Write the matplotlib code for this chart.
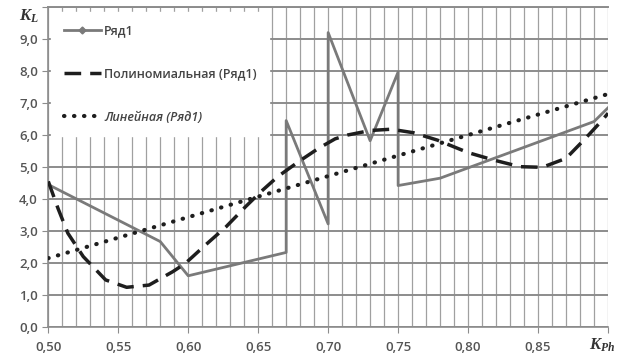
import matplotlib
matplotlib.use("Agg")
import matplotlib.pyplot as plt
from matplotlib.lines import Line2D
from matplotlib.ticker import MultipleLocator, FuncFormatter

# Ряд1
row_x = [0.50, 0.58, 0.60, 0.67, 0.67, 0.70, 0.70, 0.73, 0.75, 0.75, 0.78, 0.89, 0.90]
row_y = [4.45, 2.67, 1.60, 2.33, 6.45, 3.22, 9.20, 5.82, 7.97, 4.42, 4.65, 6.42, 6.85]

# Полиномиальная (Ряд1) - trend curve as drawn
poly_x = [0.500, 0.507, 0.514, 0.525, 0.541, 0.556, 0.572, 0.589, 0.598, 0.612,
          0.627, 0.641, 0.652, 0.664, 0.679, 0.693, 0.705, 0.714, 0.730, 0.745,
          0.761, 0.778, 0.800, 0.818, 0.837, 0.853, 0.870, 0.884, 0.896, 0.900]
poly_y = [4.55, 3.70, 2.93, 2.20, 1.47, 1.24, 1.31, 1.73, 1.99, 2.55,
          3.13, 3.76, 4.23, 4.70, 5.17, 5.58, 5.88, 6.00, 6.14, 6.18,
          6.07, 5.84, 5.45, 5.22, 5.01, 4.99, 5.27, 5.90, 6.47, 6.68]

# Линейная (Ряд1)
lin_x = [0.50, 0.90]
lin_y = [2.15, 7.28]

labels = ["Ряд1", "Полиномиальная (Ряд1)", "Линейная (Ряд1)"]

plt.rcParams['font.family'] = ['Open Sans', 'DejaVu Sans']
plt.rcParams['mathtext.fontset'] = 'custom'
plt.rcParams['mathtext.it'] = 'Liberation Serif:italic:bold'
plt.rcParams['mathtext.rm'] = 'Liberation Serif:bold'

fig = plt.figure(figsize=(6.23, 3.6), dpi=100)
ax = fig.add_axes([0.0775, 0.0917, 0.8985, 0.8889])

dot_style = dict(color='#1e1e1e', lw=3.0, dashes=(0.1, 2.3), dash_capstyle='round')
dash_style = dict(color='#1e1e1e', lw=2.5, dashes=(4.8, 2.6))

ax.plot(row_x, row_y, color='#7a7a7a', lw=2.0, zorder=3)
ax.plot(poly_x, poly_y, zorder=4, **dash_style)
ax.plot(lin_x, lin_y, zorder=4, **dot_style)

ax.set_xlim(0.50, 0.90)
ax.set_ylim(0, 10)
ax.xaxis.set_major_locator(MultipleLocator(0.05))
ax.xaxis.set_minor_locator(MultipleLocator(0.01))
ax.yaxis.set_major_locator(MultipleLocator(1.0))
ax.xaxis.set_major_formatter(FuncFormatter(lambda v, p: f"{v:.2f}".replace('.', ',') if v < 0.899 else ""))
ax.yaxis.set_major_formatter(FuncFormatter(lambda v, p: f"{v:.1f}".replace('.', ',') if v < 9.5 else ""))

ax.grid(which='minor', axis='x', color='#a0a0a0', lw=0.9)
ax.grid(which='major', axis='x', color='#a0a0a0', lw=0.9)
ax.grid(which='major', axis='y', color='#8c8c8c', lw=1.4)
ax.set_axisbelow(True)

ax.spines['right'].set_visible(False)
ax.spines['top'].set_color('#8c8c8c')
ax.spines['top'].set_linewidth(1.4)
ax.spines['top'].set_zorder(3)
for s in ['left', 'bottom']:
    ax.spines[s].set_color('#8c8c8c')
    ax.spines[s].set_linewidth(1.2)
    ax.spines[s].set_zorder(3)

ax.tick_params(axis='both', which='major', length=4, color='#8c8c8c',
               labelsize=9.5, labelcolor='#555555')
ax.tick_params(axis='x', which='minor', length=0)
ax.tick_params(axis='x', pad=6)
for t in ax.get_xticklabels() + ax.get_yticklabels():
    t.set_fontweight('semibold')

fig.text(0.03, 0.955, r'$K_L$', fontsize=12, color='#333333', ha='left', va='center')
fig.text(0.945, 0.04, r'$K_{Ph}$', fontsize=12, color='#333333', ha='left', va='center')

handles = [
    Line2D([], [], color='#7a7a7a', lw=2.0, marker='D', markersize=3.5),
    Line2D([], [], **dash_style),
    Line2D([], [], **dot_style),
]
leg = ax.legend(handles, labels, loc='upper left', bbox_to_anchor=(0.005, 0.984),
                borderaxespad=0, frameon=True, facecolor='white', edgecolor='white',
                framealpha=1, fancybox=False, fontsize=9, labelspacing=2.4,
                handlelength=3.0, handletextpad=0.25, borderpad=1.0)
for t in leg.get_texts():
    t.set_color('#444444')
    t.set_fontweight('semibold')
leg.get_texts()[2].set_style('italic')
leg.set_zorder(2.5)

fig.savefig("out.png", dpi=100)
